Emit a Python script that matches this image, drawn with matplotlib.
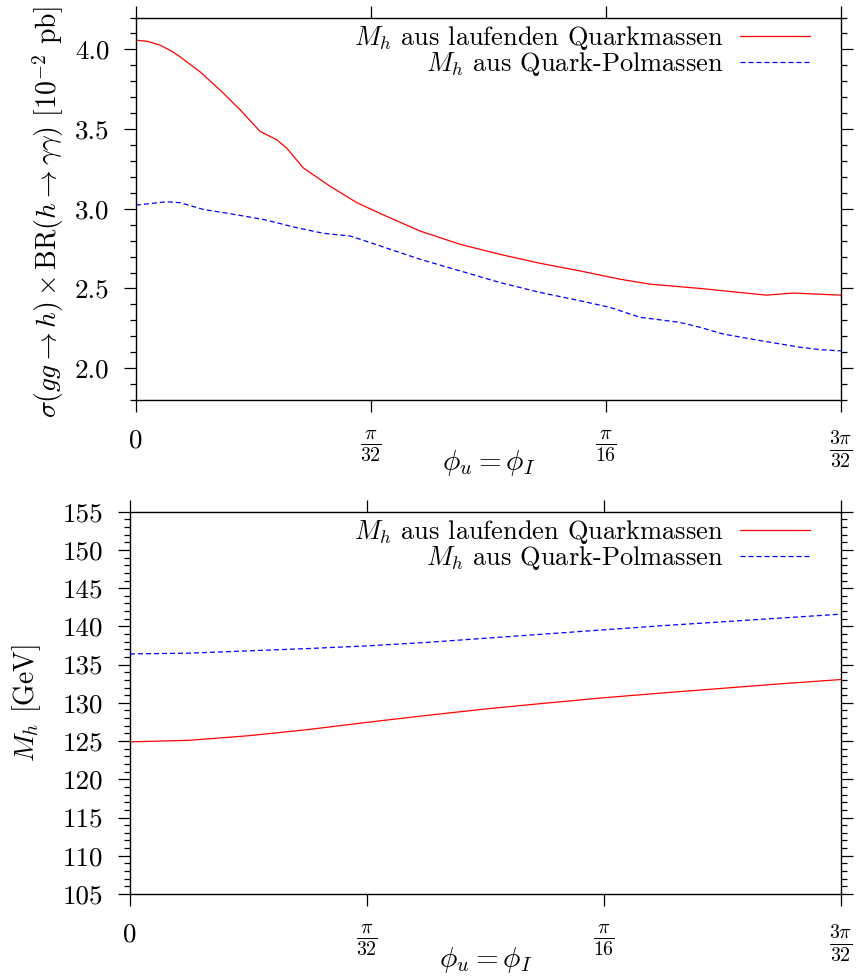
import numpy as np
import matplotlib
matplotlib.use("Agg")
import matplotlib.pyplot as plt
from matplotlib.ticker import MultipleLocator, FormatStrFormatter

plt.rcParams['font.family'] = 'cmr10'
plt.rcParams['mathtext.fontset'] = 'cm'
plt.rcParams['axes.formatter.use_mathtext'] = True
plt.rcParams['axes.unicode_minus'] = False

# phi in units of pi/32
t_run_sigma = [0, 0.05, 0.102, 0.15, 0.187, 0.272, 0.357, 0.443, 0.528, 0.599, 0.641, 0.712, 0.826, 0.94,
               1.038, 1.209, 1.379, 1.549, 1.719, 1.889, 2.06, 2.187, 2.4, 2.541, 2.683, 2.796, 3.0]
run_sigma = [4.058, 4.05, 4.027, 3.99, 3.954, 3.86, 3.746, 3.621, 3.485, 3.433, 3.381, 3.256, 3.141, 3.038,
             2.971, 2.86, 2.777, 2.714, 2.658, 2.61, 2.558, 2.527, 2.5, 2.479, 2.458, 2.471, 2.458]

t_pol_sigma = [0, 0.131, 0.187, 0.286, 0.4, 0.542, 0.684, 0.797, 0.911, 0.996, 1.081,
               1.209, 1.379, 1.549, 1.719, 1.889, 2.017, 2.145, 2.315, 2.4, 2.499, 2.655, 2.826, 2.911, 3.0]
pol_sigma = [3.023, 3.044, 3.038, 2.996, 2.969, 2.933, 2.881, 2.846, 2.829, 2.788, 2.746,
             2.683, 2.61, 2.537, 2.475, 2.423, 2.381, 2.319, 2.287, 2.256, 2.214, 2.173, 2.131, 2.116, 2.108]

t_mass = [0, 0.25, 0.5, 0.75, 1.0, 1.25, 1.5, 1.75, 2.0, 2.25, 2.5, 2.75, 3.0]
run_mass = [124.9, 125.1, 125.7, 126.5, 127.45, 128.35, 129.2, 129.95, 130.67, 131.3, 131.9, 132.5, 133.05]
pol_mass = [136.4, 136.5, 136.8, 137.1, 137.45, 137.9, 138.45, 139.0, 139.55, 140.1, 140.6, 141.1, 141.6]

xtick_pos = [0, 1, 2, 3]
xtick_labels = ["0", r"$\frac{\pi}{32}$", r"$\frac{\pi}{16}$", r"$\frac{3\pi}{32}$"]

label_run = r"$M_h$ aus laufenden Quarkmassen"
label_pol = r"$M_h$ aus Quark-Polmassen"

fs = 19.5
unit = np.pi / 32

fig = plt.figure(figsize=(8.56, 9.76), dpi=100)
ax1 = fig.add_axes([136/856, 1 - 400/976, (841-136)/856, (400-17.5)/976])
ax2 = fig.add_axes([130/856, 1 - 894/976, (841-130)/856, (894-511.7)/976])


def style(ax, xlab_y):
    ax.set_xlim(0, 3 * unit)
    ax.set_xticks([p * unit for p in xtick_pos])
    ax.set_xticklabels(xtick_labels)
    ax.tick_params(which='both', direction='out', top=True, right=True, labelsize=fs, width=0.9)
    ax.tick_params(which='major', length=8.5)
    ax.tick_params(which='minor', length=4.3)
    ax.tick_params(axis='x', pad=12)
    ax.tick_params(axis='y', pad=10.5)
    for lab in ax.get_xticklabels()[1:]:
        lab.set_fontsize(20.5)
    for s in ax.spines.values():
        s.set_linewidth(1.0)
    ax.set_xlabel(r"$\phi_u = \phi_I$", fontsize=21)
    ax.xaxis.set_label_coords(0.5, xlab_y)
    ax.xaxis.label.set_va('center')
    ax.legend(loc='upper right', bbox_to_anchor=(0.965, 1.0), frameon=False,
              markerfirst=False, fontsize=19, handlelength=2.65, handletextpad=0.62,
              labelspacing=-0.08, borderaxespad=0.0, borderpad=0.25)


ax1.plot(np.array(t_run_sigma) * unit, run_sigma, color='#ff0000', lw=0.9, label=label_run)
ax1.plot(np.array(t_pol_sigma) * unit, pol_sigma, color='#0000ff', lw=0.9, dashes=(4, 2.4), label=label_pol)
ax1.set_ylim(1.8, 4.2)
ax1.yaxis.set_minor_locator(MultipleLocator(0.1))
ax1.yaxis.set_major_formatter(FormatStrFormatter('%.1f'))
ax1.set_yticks([2.0, 2.5, 3.0, 3.5, 4.0])
ax1.set_ylabel(r"$\sigma(gg \to h)\times\mathrm{BR}(h \to \gamma\gamma)$ [$10^{-2}$ pb]", fontsize=20)
ax1.yaxis.set_label_coords(-0.1248, 0.492)
ax1.yaxis.label.set_va('center')
style(ax1, -0.1647)

ax2.plot(np.array(t_mass) * unit, run_mass, color='#ff0000', lw=0.9, label=label_run)
ax2.plot(np.array(t_mass) * unit, pol_mass, color='#0000ff', lw=0.9, dashes=(4, 2.4), label=label_pol)
ax2.set_ylim(105, 155)
ax2.yaxis.set_major_locator(MultipleLocator(5))
ax2.yaxis.set_minor_locator(MultipleLocator(1))
ax2.yaxis.set_major_formatter(FormatStrFormatter('%d'))
ax2.set_ylabel(r"$M_h$ [GeV]", fontsize=20)
ax2.yaxis.set_label_coords(-0.1449, 0.5)
ax2.yaxis.label.set_va('center')
style(ax2, -0.1726)

fig.savefig("out.png", dpi=100)
